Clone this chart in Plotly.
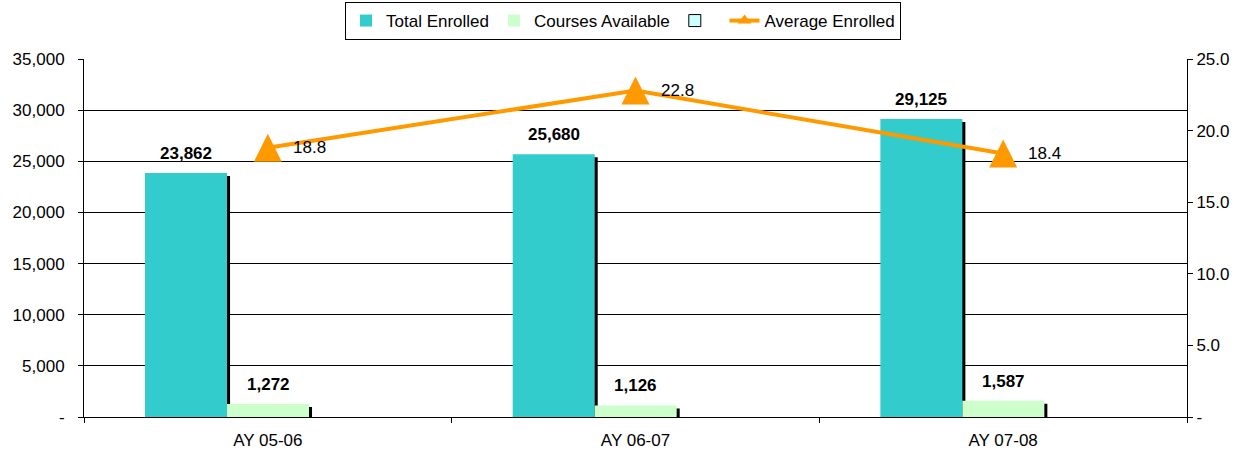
import plotly.graph_objects as go

categories = ["AY 05-06", "AY 06-07", "AY 07-08"]
total_enrolled = [23862, 25680, 29125]
courses_available = [1272, 1126, 1587]
blank_series = [None, None, None]
average_enrolled = [18.8, 22.8, 18.4]

left_ticks = [0, 5000, 10000, 15000, 20000, 25000, 30000, 35000]
left_ticktext = ["-", "5,000", "10,000", "15,000", "20,000", "25,000", "30,000", "35,000"]
right_ticks = [0, 5, 10, 15, 20, 25]
right_ticktext = ["-", "5.0", "10.0", "15.0", "20.0", "25.0"]

FONT = "Liberation Sans, Arial, sans-serif"
FS = 17
TEAL = "#33CCCC"
GREEN = "#CCFFCC"
CYAN = "#CCFFFF"
ORANGE = "#FF9900"

PLOT_H = 358  # px height of plotting area
BW = 0.223
OFFS = [-0.334, -0.111, 0.112]
SDX = 0.0082
SDY = 293
TRI = 28  # triangle marker size (px)
Y2MAX = 25
TRI_SHIFT = (TRI / 2) * Y2MAX / PLOT_H  # centre arrow-style triangle on the point

fig = go.Figure()

# shadows
for vals, off in [(total_enrolled, OFFS[0]), (courses_available, OFFS[1])]:
    fig.add_trace(go.Bar(
        x=categories, y=[v - SDY for v in vals], width=BW, offset=off + SDX,
        marker=dict(color="black", line=dict(width=0)), showlegend=False,
        hoverinfo="skip"))

fig.add_trace(go.Bar(x=categories, y=total_enrolled, name="Total Enrolled",
                     width=BW, offset=OFFS[0],
                     marker=dict(color=TEAL, line=dict(width=0))))
fig.add_trace(go.Bar(x=categories, y=courses_available, name="Courses Available",
                     width=BW, offset=OFFS[1],
                     marker=dict(color=GREEN, line=dict(width=0))))
fig.add_trace(go.Bar(x=categories, y=blank_series, name=" ",
                     width=BW, offset=OFFS[2],
                     marker=dict(color=CYAN, line=dict(width=1, color="black"))))
fig.add_trace(go.Scatter(x=categories, y=average_enrolled, name="Average Enrolled",
                         yaxis="y2", mode="lines+markers",
                         line=dict(color=ORANGE, width=4),
                         marker=dict(symbol="triangle-up", size=12, color=ORANGE)))
# tall triangles (tip-anchored arrow symbol on a shifted overlay axis)
fig.add_trace(go.Scatter(x=categories, y=average_enrolled, yaxis="y3",
                         mode="markers", showlegend=False, hoverinfo="skip",
                         marker=dict(symbol="arrow-up", size=TRI, color=ORANGE,
                                     line=dict(width=0))))

annotations = []
for i, v in enumerate(total_enrolled):
    annotations.append(dict(x=i + OFFS[0] + BW / 2, y=v, xref="x", yref="y",
                            text=f"<b>{v:,}</b>", showarrow=False,
                            yanchor="bottom", yshift=8,
                            font=dict(family=FONT, size=FS, color="black")))
for i, v in enumerate(courses_available):
    annotations.append(dict(x=i + OFFS[1] + BW / 2, y=v, xref="x", yref="y",
                            text=f"<b>{v:,}</b>", showarrow=False,
                            yanchor="bottom", yshift=8,
                            font=dict(family=FONT, size=FS, color="black")))
for i, v in enumerate(average_enrolled):
    annotations.append(dict(x=i, y=v, xref="x", yref="y2",
                            text=f"{v:.1f}", showarrow=False,
                            xanchor="left", xshift=23,
                            font=dict(family=FONT, size=FS, color="black")))

fig.update_layout(
    width=1246, height=456,
    margin=dict(l=84, r=59, t=59, b=39, pad=0, autoexpand=False),
    paper_bgcolor="white", plot_bgcolor="white",
    barmode="overlay",
    font=dict(family=FONT, size=FS, color="black"),
    showlegend=True,
    legend=dict(orientation="h", x=0.5, xanchor="center", xref="container",
                y=1 - 2 / 456, yanchor="top", yref="container",
                bgcolor="white", bordercolor="black", borderwidth=1,
                font=dict(family=FONT, size=FS, color="black"),
                itemwidth=30, traceorder="normal", tracegroupgap=0),
    xaxis=dict(type="category", categoryorder="array", categoryarray=categories,
               range=[-0.5, 2.5], showline=True, linecolor="black", linewidth=1,
               ticks="outside", tickson="boundaries", ticklen=5, tickcolor="black",
               showgrid=False, zeroline=False, automargin=False,
               ticklabelstandoff=8,
               tickfont=dict(family=FONT, size=FS, color="black")),
    yaxis=dict(range=[0, 35000], tickvals=left_ticks, ticktext=left_ticktext,
               showline=True, linecolor="black", linewidth=1,
               ticks="outside", ticklen=5, tickcolor="black", automargin=False,
               ticklabelstandoff=10,
               showgrid=True, gridcolor="black", gridwidth=1, zeroline=False,
               tickfont=dict(family=FONT, size=FS, color="black")),
    yaxis2=dict(range=[0, Y2MAX], tickvals=right_ticks, ticktext=right_ticktext,
                overlaying="y", side="right", automargin=False,
                showline=True, linecolor="black", linewidth=1,
                ticks="outside", ticklen=5, tickcolor="black",
                showgrid=False, zeroline=False,
                tickfont=dict(family=FONT, size=FS, color="black")),
    yaxis3=dict(range=[-TRI_SHIFT, Y2MAX - TRI_SHIFT], overlaying="y",
                visible=False, automargin=False),
    annotations=annotations,
)

fig.write_html("out.html", config={"displayModeBar": False},
               post_script="document.body.style.margin='0px';")
